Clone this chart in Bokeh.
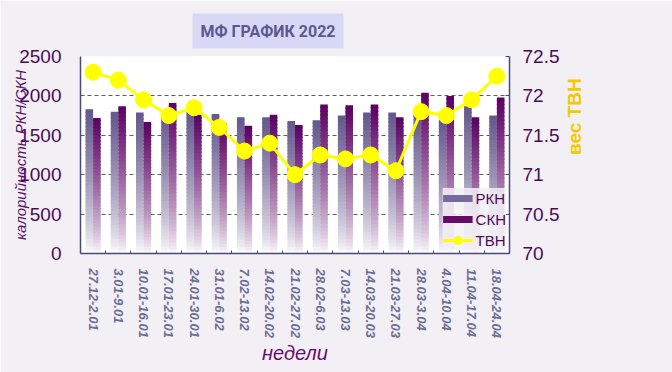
import numpy as np
from bokeh.plotting import figure
from bokeh.models import (Range1d, LinearAxis, FixedTicker, ColumnDataSource,
                          Legend, LegendItem, Title)
from bokeh.transform import dodge
from bokeh.embed import file_html
from bokeh.resources import INLINE

# ---------------- data ----------------
weeks = ["27.12-2.01", "3.01-9.01", "10.01-16.01", "17.01-23.01", "24.01-30.01",
         "31.01-6.02", "7.02-13.02", "14.02-20.02", "21.02-27.02", "28.02-6.03",
         "7.03-13.03", "14.03-20.03", "21.03-27.03", "28.03-3.04", "4.04-10.04",
         "11.04-17.04", "18.04-24.04"]
rkn = [1830, 1800, 1790, 1780, 1800, 1770, 1730, 1730, 1680, 1690, 1750, 1790,
       1790, 1780, 1700, 1870, 1750]
skn = [1720, 1870, 1670, 1910, 1760, 1650, 1620, 1760, 1630, 1890, 1880, 1890,
       1730, 2040, 2000, 1730, 1980]
tvn = [72.3, 72.2, 71.95, 71.75, 71.85, 71.6, 71.3, 71.4, 71.0, 71.25, 71.2,
       71.25, 71.05, 71.8, 71.75, 71.95, 72.25]
left_ticks = [0, 500, 1000, 1500, 2000, 2500]
right_ticks = [70, 70.5, 71, 71.5, 72, 72.5]

BG = "#f2f0f4"
LABEL_COL = "#4b0a55"
AXIS_COL = "#4a4a78"
TVN_COL = "#ffff00"

idx = np.arange(len(weeks))

p = figure(width=672, height=372, output_backend="svg", toolbar_location=None,
           x_range=Range1d(-0.5, len(weeks) - 0.5), y_range=Range1d(0, 2500),
           min_border_left=80, min_border_right=163, min_border_top=56,
           min_border_bottom=119)
p.background_fill_color = "#ffffff"
p.border_fill_color = BG
p.outline_line_color = None
# "off" range keeps the legend-swatch lines outside the visible frame
p.extra_y_ranges = {"tvn": Range1d(70, 72.5), "off": Range1d(5000, 6000)}

# ---------------- gradient bars ----------------
N = 40


def grad_source(vals, top_hex, gamma):
    top_rgb = np.array([int(top_hex[i:i + 2], 16) for i in (1, 3, 5)], float)
    white = np.array([255.0, 255.0, 255.0])
    v = np.repeat(np.asarray(vals, float), N)
    k = np.tile(np.arange(N), len(vals))
    xs = np.repeat(idx, N)
    t = (k + 0.5) / N
    f = t ** gamma
    cols = white[None, :] + (top_rgb - white)[None, :] * f[:, None]
    hexes = ["#%02x%02x%02x" % tuple(int(round(c)) for c in r) for r in cols]
    return ColumnDataSource(dict(x=xs, bottom=v * k / N,
                                 top=v * np.minimum(k + 1.4, N) / N, color=hexes))


src_r = grad_source(rkn, "#64578c", 0.75)
src_s = grad_source(skn, "#5a0062", 0.75)
p.vbar(x=dodge("x", -0.15), bottom="bottom", top="top", width=0.3, source=src_r,
       fill_color="color", line_color=None)
p.vbar(x=dodge("x", 0.15), bottom="bottom", top="top", width=0.3, source=src_s,
       fill_color="color", line_color=None)

# ---------------- TVN line ----------------
src_t = ColumnDataSource(dict(x=idx, y=tvn))
ln = p.line("x", "y", source=src_t, y_range_name="tvn", line_color=TVN_COL,
            line_width=3)
mk = p.scatter("x", "y", source=src_t, y_range_name="tvn", size=16,
               fill_color=TVN_COL, line_color=TVN_COL)

# legend-swatch renderers (drawn outside the frame, so invisible in the plot)
lr = p.line(idx, rkn, y_range_name="off", line_color="#766a9e", line_width=7)
ls = p.line(idx, skn, y_range_name="off", line_color="#640a68", line_width=7)

# ---------------- axes ----------------
xa = p.xaxis[0]
xa.ticker = FixedTicker(ticks=list(idx), minor_ticks=[i - 0.5 for i in range(len(weeks) + 1)])
xa.major_label_overrides = {int(i): w for i, w in zip(idx, weeks)}
xa.major_label_orientation = "vertical"
xa.major_label_text_font = "Liberation Sans"
xa.major_label_text_font_style = "bold italic"
xa.major_label_text_font_size = "13px"
xa.major_label_text_color = "#6c6c94"
xa.major_label_standoff = 9
xa.major_tick_line_color = None
xa.minor_tick_in = 3
xa.minor_tick_out = 0
xa.minor_tick_line_color = AXIS_COL
xa.axis_line_color = AXIS_COL
xa.axis_line_width = 1.5
xa.axis_label = "недели"
xa.axis_label_text_font = "Liberation Sans"
xa.axis_label_text_font_style = "italic"
xa.axis_label_text_font_size = "20px"
xa.axis_label_text_color = "#6a0a70"
xa.axis_label_standoff = 1

ya = p.yaxis[0]
ya.ticker = FixedTicker(ticks=left_ticks)
ya.major_label_text_font = "Liberation Sans"
ya.major_label_text_font_size = "19px"
ya.major_label_text_color = LABEL_COL
ya.major_label_standoff = 13
ya.major_tick_line_color = None
ya.minor_tick_line_color = None
ya.axis_line_color = AXIS_COL
ya.axis_line_width = 1.5
ya.axis_label = "калорийность РКН/СКН"
ya.axis_label_text_font = "Liberation Sans"
ya.axis_label_text_font_style = "italic"
ya.axis_label_text_font_size = "15px"
ya.axis_label_text_color = "#5a106a"
ya.axis_label_standoff = -13

ra = LinearAxis(y_range_name="tvn", ticker=FixedTicker(ticks=right_ticks))
ra.major_label_overrides = {v: ("%g" % v) for v in right_ticks}
ra.major_label_text_font = "Liberation Sans"
ra.major_label_text_font_size = "19px"
ra.major_label_text_color = LABEL_COL
ra.major_label_standoff = 13
ra.major_tick_in = 4
ra.major_tick_out = 0
ra.major_tick_line_color = AXIS_COL
ra.minor_tick_line_color = None
ra.axis_line_color = AXIS_COL
ra.axis_line_width = 1.5
ra.axis_label = "вес ТВН"
ra.axis_label_text_font = "Liberation Sans"
ra.axis_label_text_font_style = "bold"
ra.axis_label_text_font_size = "19px"
ra.axis_label_text_color = "#f5c800"
ra.axis_label_standoff = 12
if hasattr(ra, "axis_label_orientation"):
    ra.axis_label_orientation = np.pi / 2
p.add_layout(ra, "right")

p.xgrid.grid_line_color = None
p.ygrid.grid_line_color = "#5a5a72"
p.ygrid.grid_line_dash = "4 3"
p.ygrid.grid_line_width = 1

# ---------------- title ----------------
p.title = Title(text="МФ ГРАФИК 2022", align="left", offset=112,
                text_font="Roboto", text_font_style="bold",
                text_font_size="16px", text_color="#5a5a8c",
                background_fill_color="#d8d8f6", padding=8, standoff=16)

# ---------------- legend ----------------
legend = Legend(items=[LegendItem(label="РКН", renderers=[lr]),
                       LegendItem(label="СКН", renderers=[ls]),
                       LegendItem(label="ТВН", renderers=[ln, mk])],
                location="bottom_right", padding=3, margin=3, spacing=1,
                glyph_width=30, glyph_height=20, label_height=20,
                label_standoff=3, label_text_font="Liberation Sans",
                label_text_font_size="15px", label_text_color=LABEL_COL,
                border_line_color=None, background_fill_color="#f2f0f4",
                background_fill_alpha=0.85)
p.add_layout(legend, "center")

open("out.html", "w").write(file_html(p, INLINE))
